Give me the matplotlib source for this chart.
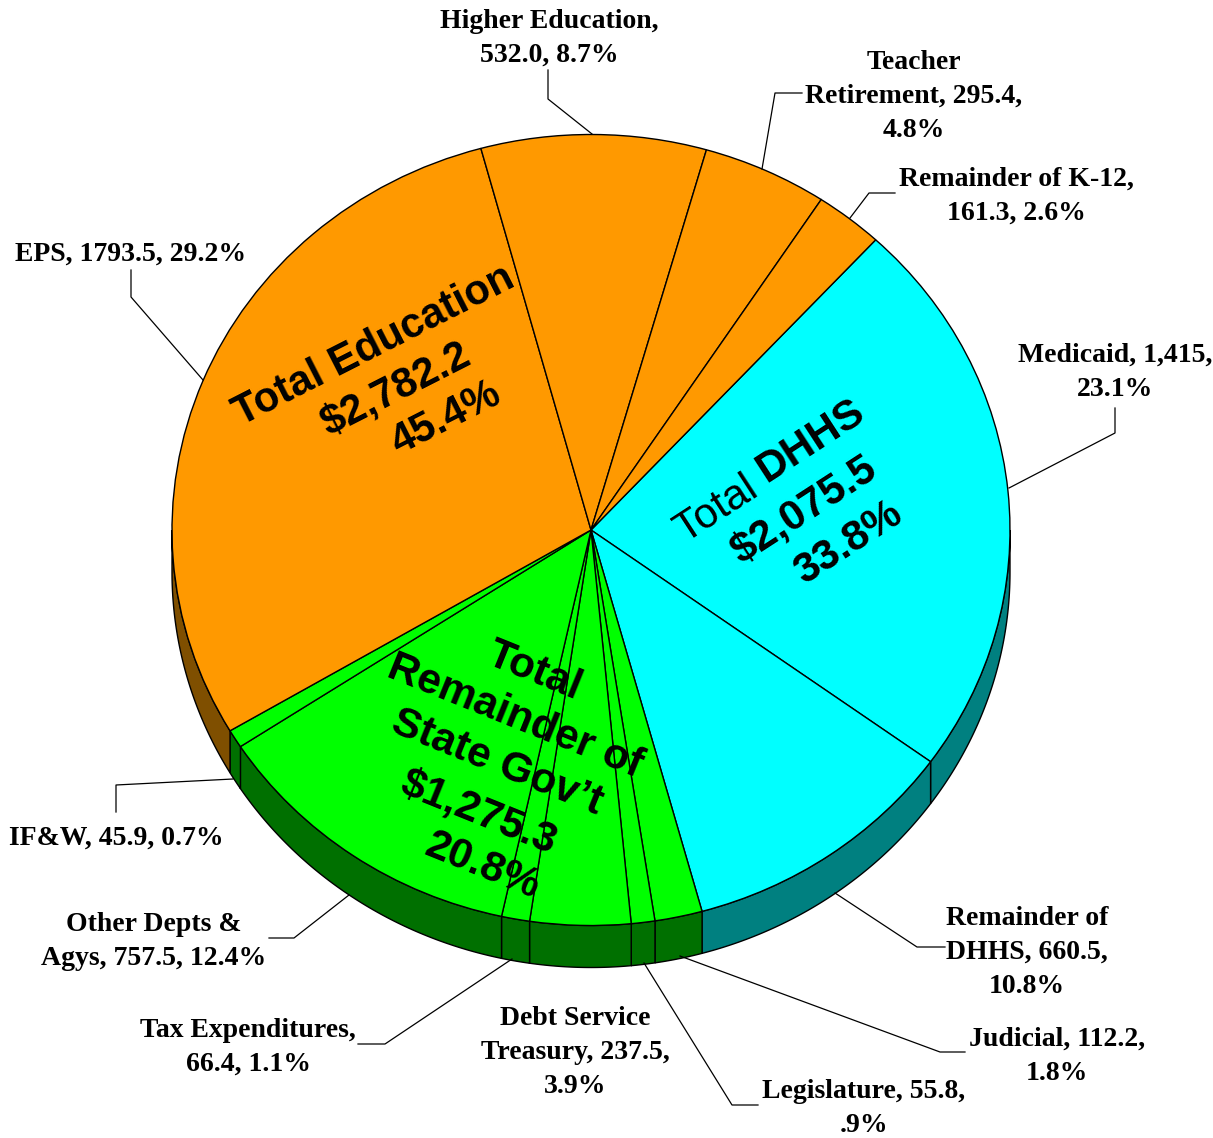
import numpy as np
import matplotlib
matplotlib.use('Agg')
import matplotlib.pyplot as plt

# Budget slices, clockwise from the Medicaid slice
names = ['Medicaid', 'Remainder of DHHS', 'Judicial', 'Legislature', 'Debt Service Treasury',
         'Tax Expenditures', 'Other Depts & Agys', 'IF&W', 'EPS', 'Higher Education',
         'Teacher Retirement', 'Remainder of K-12']
values = [1415, 660.5, 112.2, 55.8, 237.5, 66.4, 757.5, 45.9, 1793.5, 532.0, 295.4, 161.3]
top_colors = ['#00ffff'] * 2 + ['#00ff00'] * 6 + ['#ff9900'] * 4
side_colors = ['#008080'] * 2 + ['#007000'] * 6 + ['#7f4f00'] * 4

labels = ['Medicaid, 1,415,\n23.1%', 'Remainder of\nDHHS, 660.5,\n10.8%', 'Judicial, 112.2,\n1.8%',
          'Legislature, 55.8,\n.9%', 'Debt Service\nTreasury, 237.5,\n3.9%', 'Tax Expenditures,\n66.4, 1.1%',
          'Other Depts &\nAgys, 757.5, 12.4%', 'IF&W, 45.9, 0.7%', 'EPS, 1793.5, 29.2%',
          'Higher Education,\n532.0, 8.7%', 'Teacher\nRetirement, 295.4,\n4.8%', 'Remainder of K-12,\n161.3, 2.6%']
label_pos = [(1115, 372.5), (1027, 952.5), (1057, 1056.5), (864, 1108.5), (575, 1052.5), (248, 1047.5),
             (154, 941.5), (116, 838), (131, 254), (549, 38.5), (914, 96.5), (1016, 196.5)]
leaders = [[(1115, 408), (1115, 433), (1009, 488)],
           [(835, 893), (917, 947), (945, 947)],
           [(680, 956), (940, 1052), (965, 1052)],
           [(644, 963), (732, 1105), (758, 1105)],
           [(512, 959), (385, 1044), (358, 1044)],
           [(349, 895), (294, 938), (269, 938)],
           [(233, 779), (116, 785), (116, 812)],
           [(131, 270), (131, 297), (203, 380)],
           [(548, 70), (548, 99), (592, 134)],
           [(802, 93), (775, 93), (762, 169)],
           [(895, 193), (869, 193), (850, 218)]]

W, H = 1213, 1138
cx, cy, rx, ry, depth = 591, 530, 419, 395.5, 42
start = 47.2

fig = plt.figure(figsize=(W / 100, H / 100), dpi=100)
ax = fig.add_axes([0, 0, 1, 1])

# top face
ax.pie(values, colors=top_colors, startangle=start, counterclock=False, radius=1,
       wedgeprops={'edgecolor': 'black', 'linewidth': 1.0, 'zorder': 2})
ax.set_aspect('auto')
ax.set_xlim(-cx / rx, (W - cx) / rx)
ax.set_ylim((cy - H) / ry, cy / ry)
ax.set_axis_off()

# side of the disc, only on the front half (angles 0 to -180)
drop = depth / ry
edges = start - np.cumsum([0] + values) / sum(values) * 360
for a, b, c in zip(edges[:-1], edges[1:], side_colors):
    a, b = min(a, 0), max(b, -180)
    if a <= b:
        continue
    t = np.radians(np.linspace(b, a, 80))
    xs = np.r_[np.cos(t), np.cos(t[::-1])]
    ys = np.r_[np.sin(t), np.sin(t[::-1]) - drop]
    ax.fill(xs, ys, facecolor=c, edgecolor='black', linewidth=1.0, zorder=1)

# overlay in pixel coordinates for text and leader lines
ov = fig.add_axes([0, 0, 1, 1], facecolor='none')
ov.set_xlim(0, W)
ov.set_ylim(H, 0)
ov.set_axis_off()

for pts in leaders:
    ov.plot([p[0] for p in pts], [p[1] for p in pts], color='black', linewidth=0.9)

for s, (x, y) in zip(labels, label_pos):
    ov.text(x, y, s, ha='center', va='center', family='Liberation Serif', weight='bold',
            fontsize=20, linespacing=1.46, color='black')

big = dict(ha='center', va='center', family='Liberation Sans', rotation_mode='anchor', color='black')
for s, x, y, r in [('Total Education', 374, 346, 27), ('$2,782.2', 396, 390, 27), ('45.4%', 446, 418, 27)]:
    ov.text(x, y, s, weight='bold', fontsize=30, rotation=r, **big)
ov.text(717, 509, 'Total', fontsize=30.5, rotation=33, **big)
ov.text(811, 441, 'DHHS', weight='bold', fontsize=30.5, rotation=33, **big)
for s, x, y, r in [('$2,075.5', 804, 510, 33), ('33.8%', 848, 543, 33)]:
    ov.text(x, y, s, weight='bold', fontsize=30.5, rotation=r, **big)
for s, x, y, r in [('Total', 534, 671, -22), ('Remainder of', 515, 717, -22), ('State Gov\u2019t', 497, 763, -22),
                   ('$1,275.3', 478, 813, -22), ('20.8%', 482, 866, -22)]:
    ov.text(x, y, s, weight='bold', fontsize=30.5, rotation=r, **big)

fig.savefig('out.png', dpi=100)
